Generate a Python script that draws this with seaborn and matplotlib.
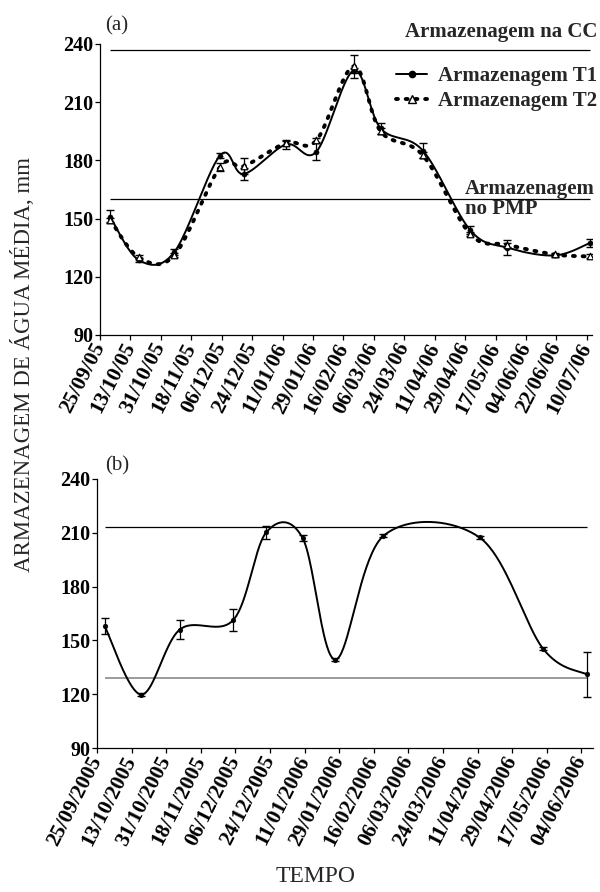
import numpy as np
import pandas as pd
import matplotlib
matplotlib.use("Agg")
import matplotlib.pyplot as plt
import seaborn as sns
from matplotlib.lines import Line2D

# ---- panel (a): storage in two treatments ----
dates_a = ["2005-10-01", "2005-10-18", "2005-11-08", "2005-12-05", "2005-12-19", "2006-01-13",
           "2006-01-31", "2006-02-22", "2006-03-10", "2006-04-04", "2006-05-02", "2006-05-24",
           "2006-06-21", "2006-07-12"]
t1_a = [151, 128.6, 132.8, 182.5, 173, 188.2, 184.5, 226.3, 196.5, 185, 144, 135, 131, 137.5]
t2_a = [149.5, 130, 131.2, 176.6, 177, 189, 190.3, 228.5, 195, 182.6, 142, 136.5, 131.5, 130.5]
err_t1_a = [3.4, 1, 1.5, 1.5, 3, 2.5, 4.4, 1.5, 3, 3.8, 2, 3.8, 1, 2.2]
err_t2_a = [1, 1, 1, 2, 4, 1, 1, 6, 1.5, 1.5, 1, 1, 1, 1]
cc_a = 237
pmp_a = 160
ticks_a = ["25/09/05", "13/10/05", "31/10/05", "18/11/05", "06/12/05", "24/12/05", "11/01/06",
           "29/01/06", "16/02/06", "06/03/06", "24/03/06", "11/04/06", "29/04/06", "17/05/06",
           "04/06/06", "22/06/06", "10/07/06"]
xend_a = "2006-07-13"

# ---- panel (b) ----
dates_b = ["2005-09-29", "2005-10-18", "2005-11-07", "2005-12-05", "2005-12-22", "2006-01-10",
           "2006-01-27", "2006-02-21", "2006-04-12", "2006-05-15", "2006-06-07"]
vals_b = [157.9, 119.8, 156, 161.5, 210.2, 207, 139.3, 208.3, 207.4, 145.4, 131]
err_b = [4.4, 0.8, 5.4, 6, 3.7, 1.7, 0.8, 0.8, 0.8, 0.8, 12.7]
upper_b = 213.2
lower_b = 129
ticks_b = ["25/09/2005", "13/10/2005", "31/10/2005", "18/11/2005", "06/12/2005", "24/12/2005",
           "11/01/2006", "29/01/2006", "16/02/2006", "06/03/2006", "24/03/2006", "11/04/2006",
           "29/04/2006", "17/05/2006", "04/06/2006"]
xend_b = "2006-06-10"

origin = pd.Timestamp("2005-09-25")


def days(s, fmt=None):
    return ((pd.to_datetime(s, format=fmt) - origin) / pd.Timedelta(days=1)).to_numpy()


def smooth(x, y, sx, sy, n=40):
    # Excel-like smoothed line (Catmull-Rom bezier in screen-ish space)
    P = np.column_stack([np.asarray(x) * sx, np.asarray(y) * sy])
    P = np.vstack([P[0], P, P[-1]])
    t = np.linspace(0, 1, n, endpoint=False)[:, None]
    segs = []
    for i in range(1, len(P) - 2):
        p0, p1, p2, p3 = P[i - 1], P[i], P[i + 1], P[i + 2]
        c1 = p1 + (p2 - p0) / 6
        c2 = p2 - (p3 - p1) / 6
        segs.append((1 - t) ** 3 * p1 + 3 * (1 - t) ** 2 * t * c1 + 3 * (1 - t) * t ** 2 * c2 + t ** 3 * p2)
    segs.append(P[-2][None])
    out = np.vstack(segs)
    return out[:, 0] / sx, out[:, 1] / sy


sns.set_style("ticks")
plt.rcParams["font.family"] = ["Liberation Serif", "DejaVu Serif"]

fig = plt.figure(figsize=(6, 8.92), dpi=100)
ax_a = fig.add_axes([100 / 600, 1 - 335 / 892, 492 / 600, 291 / 892])
ax_b = fig.add_axes([97 / 600, 1 - 748 / 892, 496 / 600, 269 / 892])

dotted = (0, (0.5, 2.0))

# panel (a)
xa = days(dates_a)
for lvl in (cc_a, pmp_a):
    ax_a.hlines(lvl, xa[0], xa[-1], color="black", lw=0.9)

sx, sy = 1.69, 1.944
cx, cy = smooth(xa, t1_a, sx, sy)
sns.lineplot(x=cx, y=cy, sort=False, estimator=None, color="black", lw=1.4, ax=ax_a)
cx, cy = smooth(xa, t2_a, sx, sy)
sns.lineplot(x=cx, y=cy, sort=False, estimator=None, color="black", lw=2.8,
             linestyle=dotted, dash_capstyle="round", ax=ax_a)
ax_a.errorbar(xa, t1_a, yerr=err_t1_a, fmt="none", ecolor="black", elinewidth=0.9, capsize=3)
ax_a.errorbar(xa, t2_a, yerr=err_t2_a, fmt="none", ecolor="black", elinewidth=0.9, capsize=3)
sns.scatterplot(x=xa, y=t1_a, marker="o", s=14, color="black", edgecolor="black", ax=ax_a, zorder=5)
sns.scatterplot(x=xa, y=t2_a, marker="^", s=22, facecolor="white", edgecolor="black",
                linewidth=0.9, ax=ax_a, zorder=6)

# panel (b)
xb = days(dates_b)
ax_b.hlines(upper_b, xb[0], xb[-1], color="black", lw=0.9)
ax_b.hlines(lower_b, xb[0], xb[-1], color="#808080", lw=1.1)
cx, cy = smooth(xb, vals_b, 1.92, 1.8)
sns.lineplot(x=cx, y=cy, sort=False, estimator=None, color="black", lw=1.4, ax=ax_b)
ax_b.errorbar(xb, vals_b, yerr=err_b, fmt="none", ecolor="black", elinewidth=0.9, capsize=3)
sns.scatterplot(x=xb, y=vals_b, marker="o", s=12, color="black", edgecolor="black", ax=ax_b, zorder=5)

for ax, ticks, fmt, xend in ((ax_a, ticks_a, "%d/%m/%y", xend_a), (ax_b, ticks_b, "%d/%m/%Y", xend_b)):
    ax.set_ylim(90, 240)
    ax.set_yticks([90, 120, 150, 180, 210, 240])
    ax.set_xlim(0, days([xend])[0])
    ax.set_xticks(days(ticks, fmt))
    ax.set_xticklabels(ticks, rotation=63, ha="right", va="center", rotation_mode="anchor")
    for lab in ax.get_xticklabels():
        lab.set_fontweight("bold")
        lab.set_fontsize(15.5)
    for lab in ax.get_yticklabels():
        lab.set_fontweight("bold")
        lab.set_fontsize(14.5)
    ax.tick_params(direction="out", length=3.5, width=0.9, pad=1, colors="black")
    ax.tick_params(axis="x", pad=3)
    sns.despine(ax=ax)
    for s in ("left", "bottom"):
        ax.spines[s].set_linewidth(0.9)
        ax.spines[s].set_color("black")
    ax.set_xlabel("")
    ax.set_ylabel("")

handles = [Line2D([], [], color="black", lw=1.4, marker="o", ms=4.5),
           Line2D([], [], color="black", lw=2.8, ls=dotted, dash_capstyle="round",
                  marker="^", ms=6, mfc="white", mec="black")]
fig.legend(handles, ["Armazenagem T1", "Armazenagem T2"], loc="upper right",
           bbox_to_anchor=(597 / 600, 1 - 66 / 892), frameon=False, handlelength=1.5,
           handletextpad=0.5, labelspacing=0.25, borderpad=0, borderaxespad=0,
           prop={"weight": "bold", "size": 15})

fig.text(597 / 600, 1 - 32 / 892, "Armazenagem na CC", ha="right", va="center",
         fontsize=15, fontweight="bold")
fig.text(465 / 600, 1 - 179 / 892, "Armazenagem\nno PMP", ha="left", va="top",
         fontsize=15, fontweight="bold", linespacing=1.0)
fig.text(105 / 600, 1 - 26 / 892, "(a)", ha="left", va="center", fontsize=15)
fig.text(105 / 600, 1 - 466 / 892, "(b)", ha="left", va="center", fontsize=15)
fig.text(23 / 600, 1 - 365 / 892, "ARMAZENAGEM DE ÁGUA MÉDIA, mm", rotation=90,
         ha="center", va="center", fontsize=16.5)
fig.text(316 / 600, 1 - 877 / 892, "TEMPO", ha="center", va="center", fontsize=17)

fig.savefig("out.png", dpi=100)
